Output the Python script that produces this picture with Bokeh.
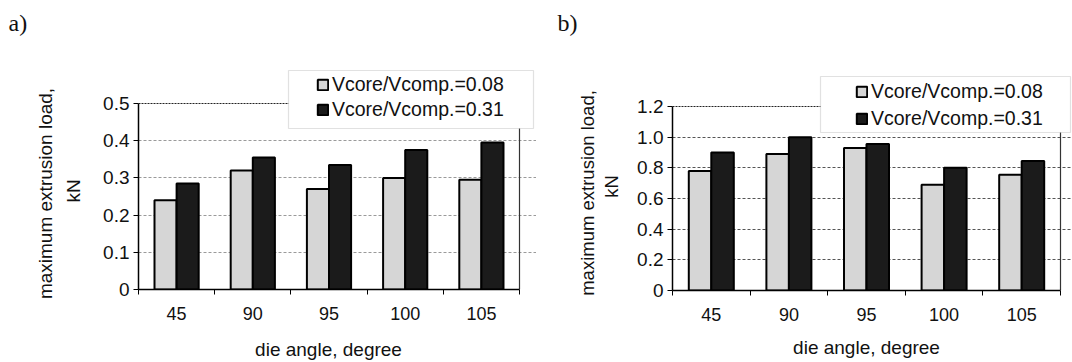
import numpy as np
from bokeh.plotting import figure
from bokeh.models import Range1d, FixedTicker, Legend, LegendItem, BoxAnnotation, Title
from bokeh.layouts import row
from bokeh.embed import file_html
from bokeh.resources import INLINE

angles = ["45", "90", "95", "100", "105"]
series_names = ["Vcore/Vcomp.=0.08", "Vcore/Vcomp.=0.31"]

a_low = [0.24, 0.32, 0.27, 0.30, 0.295]
a_high = [0.285, 0.355, 0.335, 0.375, 0.395]
a_yticks = [0, 0.1, 0.2, 0.3, 0.4, 0.5]
a_ylabels = ["0", "0.1", "0.2", "0.3", "0.4", "0.5"]

b_low = [0.78, 0.89, 0.93, 0.69, 0.755]
b_high = [0.90, 1.00, 0.955, 0.80, 0.845]
b_yticks = [0, 0.2, 0.4, 0.6, 0.8, 1.0, 1.2]
b_ylabels = ["0", "0.2", "0.4", "0.6", "0.8", "1.0", "1.2"]

x_title = "die angle, degree"
y_title_1 = "maximum extrusion load,"
y_title_2 = "kN"

FONT = "Liberation Sans"
TXT = "#111111"


def spacer(p, side, size):
    p.add_layout(Title(text=" ", text_font_size="1px", standoff=size), side)


def text_width(s, px):
    # Arial / Liberation Sans advance widths (em) for the characters used
    w = {"m": .833, "a": .556, "x": .5, "i": .222, "u": .556, " ": .278,
         "e": .556, "t": .278, "r": .333, "s": .5, "o": .556, "n": .556,
         "l": .222, "d": .556, ",": .278, "k": .5, "N": .722, "g": .556}
    return sum(w.get(c, .556) for c in s) * px


def make_panel(low, high, yticks, ylabels, tag, cfg):
    n = len(angles)
    centers = [i + 0.5 for i in range(n)]
    ytop = yticks[-1]
    left, right_axis, fig_right = cfg["left"], cfg["right"], cfg["fig_right"]
    y0px, ytop_px, frame_top = cfg["y0"], cfg["ytop"], cfg["frame_top"]
    fw = fig_right - left
    fh = y0px - frame_top
    xmax = n * fw / (right_axis - left)
    ymax = ytop * fh / (y0px - ytop_px)

    p = figure(frame_width=fw, frame_height=fh,
               min_border_left=left - cfg["fig_left"], min_border_right=0,
               min_border_top=frame_top, min_border_bottom=362 - y0px,
               x_range=Range1d(0, xmax), y_range=Range1d(0, ymax),
               output_backend="svg", toolbar_location=None)
    p.background_fill_color = "white"
    p.border_fill_color = "white"
    p.outline_line_alpha = 0

    xs = np.array(centers)
    r1 = p.vbar(x=xs - 0.145, top=low, width=0.29, fill_color="#d6d6d6",
                line_color="black", line_width=2)
    r2 = p.vbar(x=xs + 0.145, top=high, width=0.29, fill_color="#1b1b1b",
                line_color="black", line_width=2)

    # plot-area border (top dotted, right solid)
    p.segment(x0=[0], y0=[ytop], x1=[n], y1=[ytop], line_color="#222222",
              line_width=1.2, line_dash="2 1")
    p.segment(x0=[n], y0=[0], x1=[n], y1=[ytop], line_color="#333333",
              line_width=1.2)

    # x axis
    xa = p.xaxis[0]
    xa.bounds = (0, n)
    xa.ticker = FixedTicker(ticks=centers, minor_ticks=list(range(n + 1)))
    xa.major_label_overrides = {float(c): a for c, a in zip(centers, angles)}
    xa.major_tick_out = 0
    xa.major_tick_in = 0
    xa.minor_tick_out = 5
    xa.minor_tick_in = 0
    xa.minor_tick_line_color = "black"
    xa.axis_line_color = "black"
    xa.axis_line_width = 1.5
    xa.major_label_text_font = FONT
    xa.major_label_text_font_size = "18px"
    xa.major_label_text_color = TXT
    xa.major_label_standoff = 12

    # y axis
    ya = p.yaxis[0]
    ya.bounds = (0, ytop)
    ya.ticker = FixedTicker(ticks=yticks, minor_ticks=[])
    ya.major_label_overrides = {float(t): l for t, l in zip(yticks, ylabels)}
    ya.major_tick_out = 5
    ya.major_tick_in = 0
    ya.major_tick_line_color = "black"
    ya.minor_tick_out = 0
    ya.minor_tick_in = 0
    ya.axis_line_color = "black"
    ya.axis_line_width = 1.5
    ya.major_label_text_font = FONT
    ya.major_label_text_font_size = "19px"
    ya.major_label_text_color = TXT
    ya.major_label_standoff = 4

    p.xgrid.visible = False
    p.ygrid.ticker = FixedTicker(ticks=yticks[1:-1])
    p.ygrid.bounds = (0, n)
    p.ygrid.grid_line_color = cfg["grid"]
    p.ygrid.grid_line_dash = "3 2"
    p.ygrid.grid_line_width = 1

    # x title (below), positioned on the reference plot-area centre
    tfs = cfg["title_px"]
    spacer(p, "below", cfg["x_spacer"])
    xw = text_width(x_title, 19)
    p.add_layout(Title(text=x_title, align="left",
                       offset=cfg["x_title_c"] - xw / 2.0 - left,
                       text_font=FONT, text_font_size="19px",
                       text_font_style="normal", text_color=TXT,
                       standoff=2), "below")

    # y titles (left)
    spacer(p, "left", cfg["y_spacer"])
    w2 = text_width(y_title_2, tfs)
    p.add_layout(Title(text=y_title_2, align="left",
                       offset=y0px - (cfg["kn_c"] + w2 / 2.0),
                       text_font=FONT, text_font_size="%gpx" % tfs,
                       text_font_style="normal", text_color=TXT,
                       standoff=cfg["kn_standoff"]), "left")
    w1 = text_width(y_title_1, tfs)
    p.add_layout(Title(text=y_title_1, align="left",
                       offset=y0px - (cfg["yt_c"] + w1 / 2.0),
                       text_font=FONT, text_font_size="%gpx" % tfs,
                       text_font_style="normal", text_color=TXT,
                       standoff=cfg["yt_standoff"]), "left")

    # panel tag
    p.add_layout(Title(text=tag, align="left", offset=cfg["tag_x"] - left,
                       text_font="Liberation Serif", text_font_size="24px",
                       text_font_style="normal", text_color=TXT,
                       standoff=cfg["tag_standoff"]), "above")

    # legend frame + legend
    bl, br, bt, bb = cfg["box"]
    p.add_layout(BoxAnnotation(left=bl - left, right=br - left,
                               top=y0px - bt, bottom=y0px - bb,
                               left_units="screen", right_units="screen",
                               top_units="screen", bottom_units="screen",
                               fill_color="white", fill_alpha=1.0,
                               line_color="#9a9a9a", line_width=1.2))
    lh = cfg["row_h"]
    pad = 5
    leg_top = cfg["row1"] - lh / 2.0 - pad
    leg_bottom = leg_top + 2 * pad + 2 * lh
    leg = Legend(items=[LegendItem(label=series_names[0], renderers=[r1]),
                        LegendItem(label=series_names[1], renderers=[r2])],
                 location=(cfg["marker_x"] - pad - left, y0px - leg_bottom),
                 orientation="vertical",
                 glyph_width=13, glyph_height=13, label_height=lh,
                 label_standoff=3, spacing=0, padding=pad, margin=0,
                 label_text_font=FONT, label_text_font_size="19.5px",
                 label_text_color=TXT, label_text_baseline="middle",
                 border_line_alpha=0, background_fill_alpha=0)
    p.add_layout(leg)
    return p


cfg_a = dict(fig_left=0, left=138, right=519, fig_right=536, y0=288, ytop=102,
             frame_top=41, grid="#9a9a9a", title_px=19,
             x_spacer=10, x_title_c=328,
             y_spacer=12, kn_standoff=4, yt_standoff=6, kn_c=189.5, yt_c=192,
             tag_x=8, tag_standoff=14,
             box=(288, 533, 69, 127), row1=83, row_h=25, marker_x=316)
cfg_b = dict(fig_left=536, left=672, right=1060, fig_right=1072, y0=289,
             ytop=105, frame_top=41, grid="#555555", title_px=18.5,
             x_spacer=7, x_title_c=866,
             y_spacer=9, kn_standoff=1, yt_standoff=1, kn_c=185, yt_c=191.5,
             tag_x=557, tag_standoff=14,
             box=(820, 1070, 75, 131), row1=90, row_h=27, marker_x=855)

pa = make_panel(a_low, a_high, a_yticks, a_ylabels, "a)", cfg_a)
pb = make_panel(b_low, b_high, b_yticks, b_ylabels, "b)", cfg_b)

layout = row(pa, pb, spacing=0)
open("out.html", "w").write(file_html(layout, INLINE))
